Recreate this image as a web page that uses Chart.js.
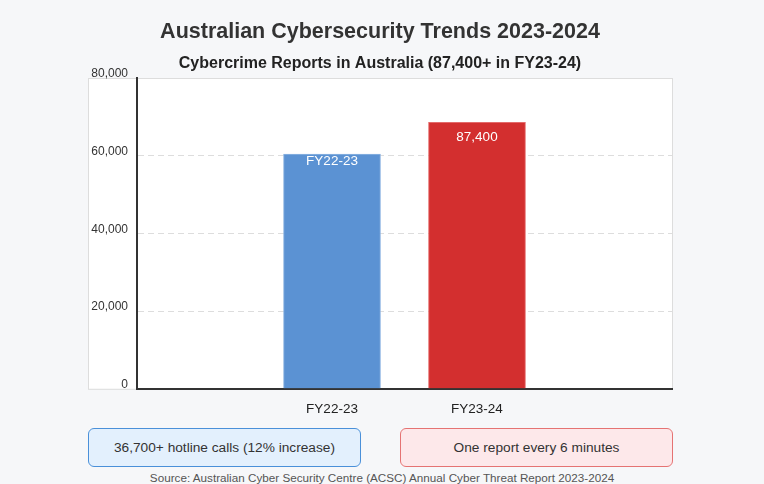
<!DOCTYPE html>
<html>
<head>
<meta charset="utf-8">
<script src="https://cdn.jsdelivr.net/npm/chart.js@4.4.1/dist/chart.umd.min.js"></script>
<style>
  body { margin: 0; background: #f6f7f9; font-family: "Liberation Sans", Arial, sans-serif; }
  #wrap { position: relative; width: 764px; height: 484px; overflow: hidden; }
  #chartBox { position: absolute; left: 0; top: 0; width: 764px; height: 432px; }
  .note { position: absolute; top: 428px; width: 273px; height: 39px; box-sizing: border-box;
          border-radius: 6px; font-size: 13.7px; color: #333; display: flex; align-items: center; justify-content: center; }
  #noteLeft { left: 88px; background: #e3f0fd; border: 1px solid #4a90d9; }
  #noteRight { left: 400px; background: #fde8ea; border: 1px solid #e57373; }
  #source { position: absolute; left: 0; width: 764px; top: 471px; text-align: center; font-size: 11.7px; color: #555; }
</style>
</head>
<body>
<div id="wrap">
  <div id="chartBox"><canvas id="cyberChart"></canvas></div>
  <div class="note" id="noteLeft">36,700+ hotline calls (12% increase)</div>
  <div class="note" id="noteRight">One report every 6 minutes</div>
  <div id="source">Source: Australian Cyber Security Centre (ACSC) Annual Cyber Threat Report 2023-2024</div>
</div>
<script>
// datos
const categories = ['FY22-23', 'FY23-24'];
const reports = [60400, 68600];
const barLabels = ['FY22-23', '87,400'];
const yTicks = [0, 20000, 40000, 60000, 80000];

const barColors = ['#5b92d3', '#d32f2f'];
const barBorders = ['#8db4e2', '#e46a6a'];

// fondo blanco detras del area del grafico
const plotBackground = {
  id: 'plotBackground',
  beforeDraw(chart) {
    const { ctx, chartArea } = chart;
    const left = chart.scales.y.left;
    ctx.save();
    ctx.fillStyle = '#ffffff';
    ctx.fillRect(left, chartArea.top, chartArea.right - left, chartArea.bottom - chartArea.top);
    ctx.strokeStyle = '#dddddd';
    ctx.lineWidth = 1;
    ctx.strokeRect(left + 0.5, chartArea.top + 0.5, chartArea.right - left, chartArea.bottom - chartArea.top);
    ctx.restore();
  }
};

// etiquetas blancas dentro de las barras
const labelOffsets = [7, 15];
const barText = {
  id: 'barText',
  afterDatasetsDraw(chart) {
    const { ctx } = chart;
    const meta = chart.getDatasetMeta(0);
    ctx.save();
    ctx.fillStyle = '#ffffff';
    ctx.font = '13.5px "Liberation Sans", Arial, sans-serif';
    ctx.textAlign = 'center';
    ctx.textBaseline = 'middle';
    meta.data.forEach((bar, i) => {
      ctx.fillText(barLabels[i], bar.x, bar.y + labelOffsets[i]);
    });
    ctx.restore();
  }
};

const ctx = document.getElementById('cyberChart').getContext('2d');
const cyberChart = new Chart(ctx, {
  type: 'bar',
  data: {
    datasets: [{
      label: 'Cybercrime Reports',
      data: reports.map((v, i) => ({ x: i, y: v })),
      backgroundColor: barColors,
      borderColor: barBorders,
      borderWidth: 1,
      borderSkipped: 'bottom',
      barThickness: 97
    }]
  },
  options: {
    responsive: true,
    maintainAspectRatio: false,
    animation: false,
    layout: { padding: { left: 88, right: 92, bottom: 3 } },
    plugins: {
      legend: { display: false },
      tooltip: { enabled: false },
      title: {
        display: true,
        text: 'Australian Cybersecurity Trends 2023-2024',
        color: '#333333',
        font: { size: 21.5, weight: 'bold', family: '"Liberation Sans", Arial, sans-serif' },
        padding: { top: 19, bottom: 9 }
      },
      subtitle: {
        display: true,
        text: 'Cybercrime Reports in Australia (87,400+ in FY23-24)',
        color: '#222222',
        font: { size: 16, weight: 'bold', family: '"Liberation Sans", Arial, sans-serif' },
        padding: { top: 0, bottom: 5 }
      }
    },
    scales: {
      x: {
        type: 'linear',
        min: -1.345,
        max: 2.345,
        offset: false,
        grid: { display: false, drawTicks: false },
        border: { display: true, color: '#333333', width: 2 },
        afterBuildTicks: (scale) => { scale.ticks = categories.map((c, i) => ({ value: i })); },
        ticks: {
          color: '#222222',
          padding: 12,
          font: { size: 13.5, family: '"Liberation Sans", Arial, sans-serif' },
          callback: (v) => categories[v]
        }
      },
      y: {
        min: 0,
        max: 80000,
        afterFit: (scale) => { scale.width = 49; },
        afterBuildTicks: (scale) => { scale.ticks = yTicks.map(v => ({ value: v })); },
        grid: { color: '#dddddd', drawTicks: false },
        border: { display: true, color: '#333333', width: 2, dash: [6, 4] },
        ticks: {
          color: '#333333',
          padding: 9,
          labelOffset: -4,
          font: { size: 12, family: '"Liberation Sans", Arial, sans-serif' },
          callback: (v) => v.toLocaleString('en-US')
        }
      }
    }
  },
  plugins: [plotBackground, barText]
});
</script>
</body>
</html>
